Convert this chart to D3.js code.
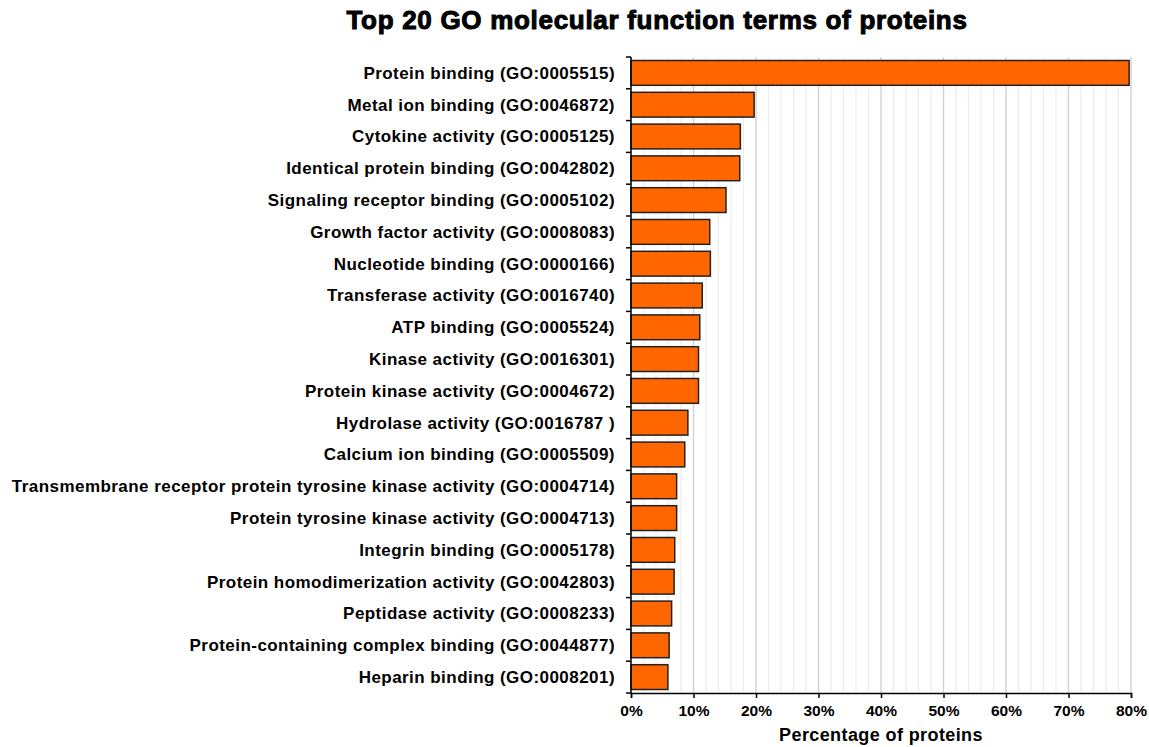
<!DOCTYPE html>
<html>
<head>
<meta charset="utf-8">
<script src="https://cdn.jsdelivr.net/npm/d3@7"></script>
<style>
  body { margin: 0; background: #fff; }
  text { font-family: "Liberation Sans", Arial, sans-serif; font-weight: bold; fill: #000; }
</style>
</head>
<body>
<svg id="chart"></svg>
<script>
// GO terms, top to bottom
const terms = [
  "Protein binding (GO:0005515)",
  "Metal ion binding (GO:0046872)",
  "Cytokine activity (GO:0005125)",
  "Identical protein binding (GO:0042802)",
  "Signaling receptor binding (GO:0005102)",
  "Growth factor activity (GO:0008083)",
  "Nucleotide binding (GO:0000166)",
  "Transferase activity (GO:0016740)",
  "ATP binding (GO:0005524)",
  "Kinase activity (GO:0016301)",
  "Protein kinase activity (GO:0004672)",
  "Hydrolase activity (GO:0016787 )",
  "Calcium ion binding (GO:0005509)",
  "Transmembrane receptor protein tyrosine kinase activity (GO:0004714)",
  "Protein tyrosine kinase activity (GO:0004713)",
  "Integrin binding (GO:0005178)",
  "Protein homodimerization activity (GO:0042803)",
  "Peptidase activity (GO:0008233)",
  "Protein-containing complex binding (GO:0044877)",
  "Heparin binding (GO:0008201)"
];
// percentage of proteins
const percents = [79.7, 19.7, 17.5, 17.4, 15.2, 12.6, 12.7, 11.4, 11.0, 10.8,
                  10.8, 9.1, 8.6, 7.3, 7.3, 7.0, 6.9, 6.5, 6.1, 5.9];
const xTicks = [0, 10, 20, 30, 40, 50, 60, 70, 80];

const data = terms.map((t, i) => ({term: t, value: percents[i]}));

const width = 1149, height = 747;
const margin = {top: 57, right: 18, bottom: 54, left: 631};
const innerW = width - margin.left - margin.right;
const innerH = height - margin.top - margin.bottom;

const svg = d3.select("#chart").attr("width", width).attr("height", height);

const x = d3.scaleLinear().domain([0, 80]).range([0, innerW]);
const y = d3.scaleBand().domain(terms).range([0, innerH]).paddingInner(0.22).paddingOuter(0.11);

const g = svg.append("g").attr("transform", `translate(${margin.left},${margin.top})`);

// gridlines: minor every 2%, major every 10%
const minor = d3.range(2, 81, 2).filter(v => v % 10 !== 0);
g.append("g").selectAll("line").data(minor).join("line")
    .attr("x1", d => x(d)).attr("x2", d => x(d))
    .attr("y1", 0).attr("y2", innerH)
    .attr("stroke", "#ececec").attr("stroke-width", 1.2);
g.append("g").selectAll("line").data(xTicks.slice(1)).join("line")
    .attr("x1", d => x(d)).attr("x2", d => x(d))
    .attr("y1", 0).attr("y2", innerH)
    .attr("stroke", "#d2d2d2").attr("stroke-width", 1.4);

// bars
g.append("g").selectAll("rect").data(data).join("rect")
    .attr("x", x(0))
    .attr("y", d => y(d.term))
    .attr("width", d => x(d.value))
    .attr("height", y.bandwidth())
    .attr("fill", "#ff6600")
    .attr("stroke", "#222")
    .attr("stroke-width", 1.5);

// y axis line and ticks at band boundaries
const bounds = terms.map(t => y(t) - y.step() * 0.11).concat([innerH]);
g.append("line").attr("x1", 0).attr("x2", 0).attr("y1", 0).attr("y2", innerH)
    .attr("stroke", "#000").attr("stroke-width", 1.5);
g.append("g").selectAll("line").data(bounds).join("line")
    .attr("x1", -5).attr("x2", 0).attr("y1", d => d).attr("y2", d => d)
    .attr("stroke", "#000").attr("stroke-width", 1.5);

// y labels
g.append("g").selectAll("text").data(terms).join("text")
    .attr("x", -16)
    .attr("y", d => y(d) + y.bandwidth() / 2)
    .attr("dy", "0.35em")
    .attr("text-anchor", "end")
    .style("font-size", "17px")
    .style("letter-spacing", "0.45px")
    .text(d => d);

// x axis
const xAxis = g.append("g").attr("transform", `translate(0,${innerH})`)
    .call(d3.axisBottom(x).tickValues(xTicks).tickFormat(d => d + "%").tickSize(5).tickPadding(7));
xAxis.select(".domain").attr("stroke", "#000").attr("stroke-width", 1.5);
xAxis.selectAll(".tick line").attr("stroke", "#000").attr("stroke-width", 1.5);
xAxis.selectAll(".tick text")
    .style("font-family", "'Liberation Sans', Arial, sans-serif")
    .style("font-weight", "bold").style("font-size", "15.5px").attr("fill", "#000");

// axis title
svg.append("text")
    .attr("x", margin.left + 250)
    .attr("y", 741)
    .attr("text-anchor", "middle")
    .style("font-size", "18px")
    .style("letter-spacing", "0.4px")
    .text("Percentage of proteins");

// chart title
svg.append("text")
    .attr("x", 657)
    .attr("y", 29)
    .attr("text-anchor", "middle")
    .style("font-size", "26px")
    .style("letter-spacing", "0.7px")
    .attr("stroke", "#000").attr("stroke-width", 1)
    .text("Top 20 GO molecular function terms of proteins");
</script>
</body>
</html>
